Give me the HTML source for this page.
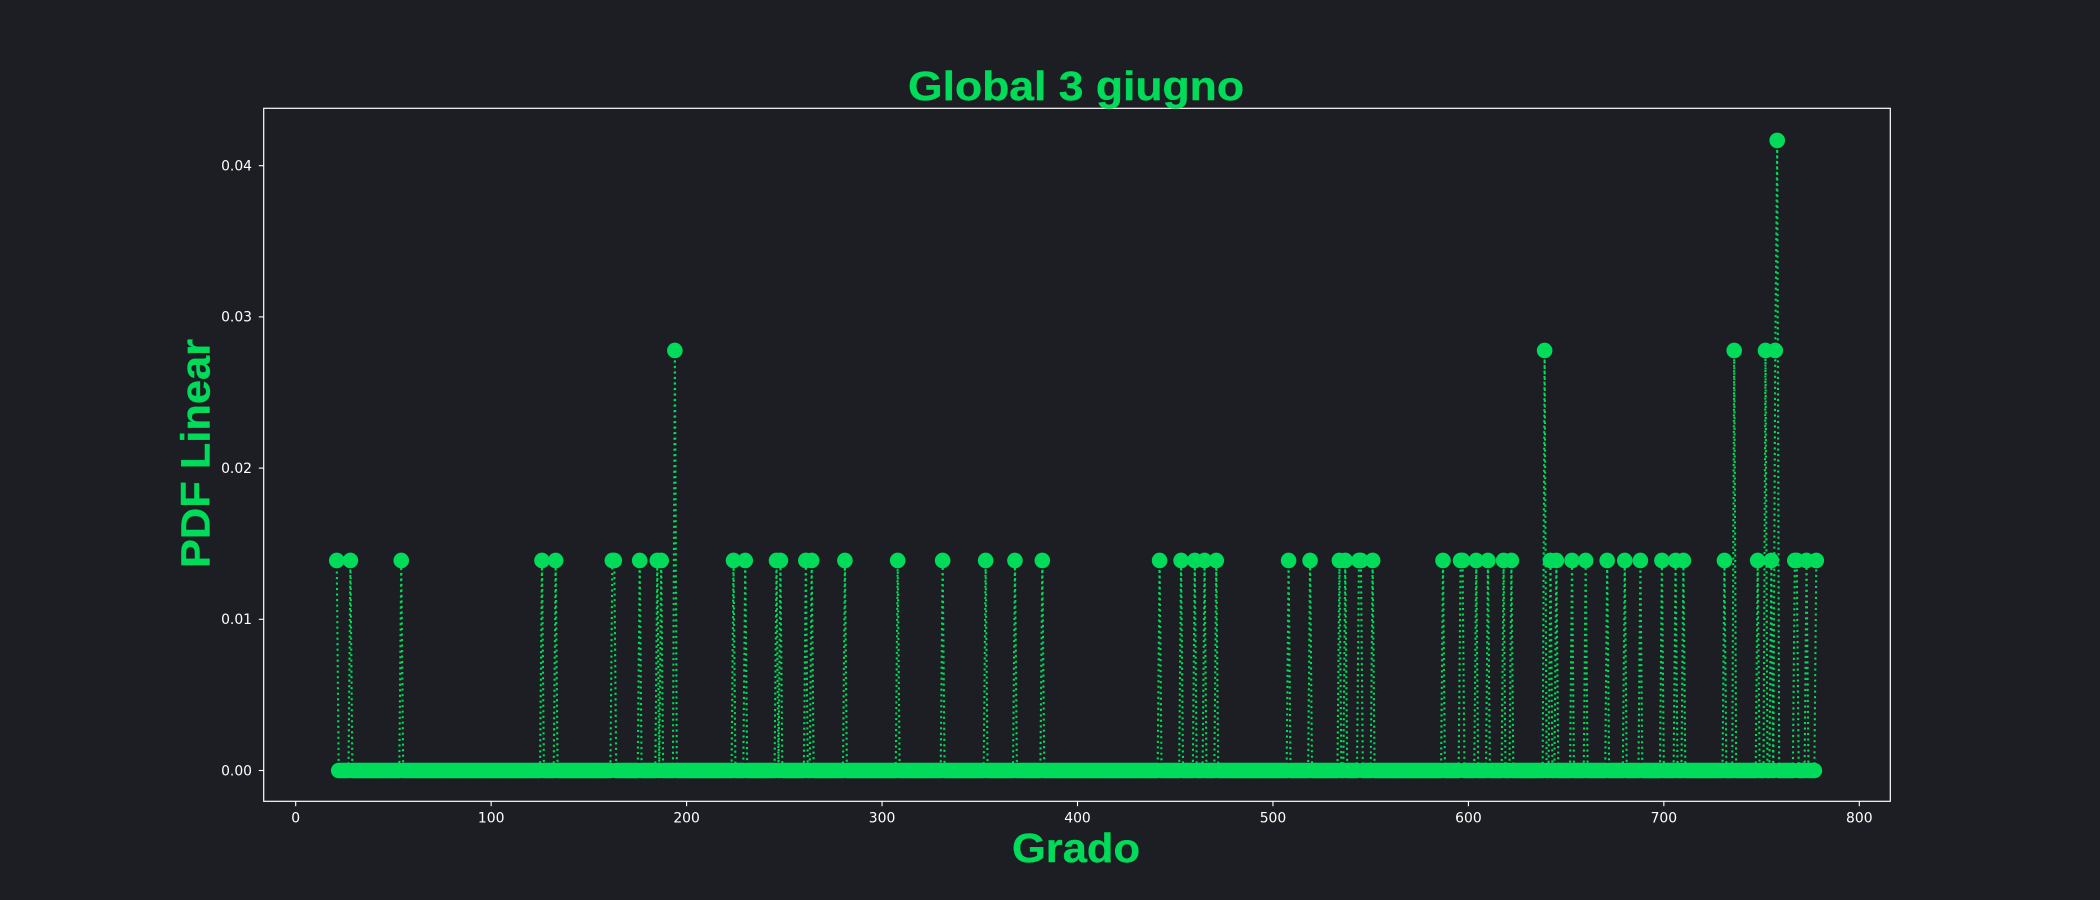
<!DOCTYPE html>
<html lang="it">
<head>
<meta charset="utf-8">
<title>Global 3 giugno</title>
<style>
html,body{margin:0;padding:0;width:2100px;height:900px;overflow:hidden;background:#1c1e23;}
svg{display:block;}
text{font-family:"DejaVu Sans","Liberation Sans",sans-serif;}
.tick-label{fill:#fff;font-size:13.9px;}
text.big{fill:#00db5a;font-weight:bold;font-family:"Liberation Sans","DejaVu Sans",sans-serif;stroke:#00db5a;stroke-width:0.4px;}
</style>
</head>
<body>
<svg id="chart" width="2100" height="900" viewBox="0 0 2100 900" xmlns="http://www.w3.org/2000/svg">
  <rect x="0" y="0" width="2100" height="900" fill="#1c1e23"/>
  <g id="stem-layer"></g>
  <g id="marker-layer"></g>
  <rect x="263.7" y="108.3" width="1626.6" height="693" fill="none" stroke="#fff" stroke-width="1.2"/>
  <g id="x-axis"></g>
  <g id="y-axis"></g>
  <text class="big" x="1076" y="99.8" font-size="41" text-anchor="middle" textLength="336" lengthAdjust="spacingAndGlyphs">Global 3 giugno</text>
  <text class="big" x="1076" y="862" font-size="41" text-anchor="middle" textLength="128" lengthAdjust="spacingAndGlyphs">Grado</text>
  <text class="big" transform="translate(209.3 453.5) rotate(-90)" x="0" y="0" font-size="41" text-anchor="middle" textLength="229" lengthAdjust="spacingAndGlyphs">PDF Linear</text>
</svg>
<script>
const xTickValues = [0, 100, 200, 300, 400, 500, 600, 700, 800];
const xTickLabels = ["0", "100", "200", "300", "400", "500", "600", "700", "800"];
const yTickValues = [0, 0.01, 0.02, 0.03, 0.04];
const yTickLabels = ["0.00", "0.01", "0.02", "0.03", "0.04"];
const degreeFirst = 21;
const degreeLast = 778;
const peakDegrees = [21, 28, 54, 126, 133, 162, 163, 176, 185, 187, 194, 224, 230, 246, 248, 261, 264, 281, 308, 331, 353, 368, 382, 442, 453, 460, 465, 471, 508, 519, 534, 537, 544, 545, 551, 587, 596, 597, 604, 610, 618, 622, 639, 642, 645, 653, 660, 671, 680, 688, 699, 706, 710, 731, 736, 748, 752, 755, 757, 758, 767, 768, 773, 778];
const peakValues = [0.01389, 0.01389, 0.01389, 0.01389, 0.01389, 0.01389, 0.01389, 0.01389, 0.01389, 0.01389, 0.02778, 0.01389, 0.01389, 0.01389, 0.01389, 0.01389, 0.01389, 0.01389, 0.01389, 0.01389, 0.01389, 0.01389, 0.01389, 0.01389, 0.01389, 0.01389, 0.01389, 0.01389, 0.01389, 0.01389, 0.01389, 0.01389, 0.01389, 0.01389, 0.01389, 0.01389, 0.01389, 0.01389, 0.01389, 0.01389, 0.01389, 0.01389, 0.02778, 0.01389, 0.01389, 0.01389, 0.01389, 0.01389, 0.01389, 0.01389, 0.01389, 0.01389, 0.01389, 0.01389, 0.02778, 0.01389, 0.02778, 0.01389, 0.02778, 0.04167, 0.01389, 0.01389, 0.01389, 0.01389];

const SVG_NS = "http://www.w3.org/2000/svg";
const GREEN = "#00db5a";
function xScale(v) { return 295.7 + 1.9545 * v; }
function yScale(v) { return 770.5 - 15120 * v; }

const peakLookup = new Map();
peakDegrees.forEach(function (d, i) { peakLookup.set(d, peakValues[i]); });

const points = [];
for (let d = degreeFirst; d <= degreeLast; d++) {
  points.push([d, peakLookup.has(d) ? peakLookup.get(d) : 0]);
}

const stemLayer = document.getElementById("stem-layer");
const line = document.createElementNS(SVG_NS, "polyline");


line.setAttribute("points", points.map(function (p) { return xScale(p[0]) + "," + yScale(p[1]); }).join(" "));
line.setAttribute("fill", "none");
line.setAttribute("stroke", GREEN);
line.setAttribute("stroke-width", "2.08");
line.setAttribute("stroke-dasharray", "2.08 3.43");
line.setAttribute("stroke-linejoin", "round");
stemLayer.appendChild(line);

const markerLayer = document.getElementById("marker-layer");
points.forEach(function (p) {
  const c = document.createElementNS(SVG_NS, "circle");
  
  
  c.setAttribute("cx", xScale(p[0]));
  c.setAttribute("cy", yScale(p[1]));
  c.setAttribute("r", "7.8");
  c.setAttribute("fill", GREEN);
  markerLayer.appendChild(c);
});

const xAxis = document.getElementById("x-axis");
xTickValues.forEach(function (v, i) {
  const x = xScale(v);
  const t = document.createElementNS(SVG_NS, "line");
  
  
  t.setAttribute("x1", x); t.setAttribute("x2", x);
  t.setAttribute("y1", 801.3); t.setAttribute("y2", 806.2);
  t.setAttribute("stroke", "#fff"); t.setAttribute("stroke-width", "1.1");
  xAxis.appendChild(t);
  const l = document.createElementNS(SVG_NS, "text");
  
  
  l.setAttribute("class", "tick-label");
  l.setAttribute("x", x); l.setAttribute("y", 822.3);
  l.setAttribute("text-anchor", "middle");
  l.textContent = xTickLabels[i];
  xAxis.appendChild(l);
});

const yAxis = document.getElementById("y-axis");
yTickValues.forEach(function (v, i) {
  const y = yScale(v);
  const t = document.createElementNS(SVG_NS, "line");
  
  
  t.setAttribute("x1", 258.8); t.setAttribute("x2", 263.7);
  t.setAttribute("y1", y); t.setAttribute("y2", y);
  t.setAttribute("stroke", "#fff"); t.setAttribute("stroke-width", "1.1");
  yAxis.appendChild(t);
  const l = document.createElementNS(SVG_NS, "text");
  
  
  l.setAttribute("class", "tick-label");
  l.setAttribute("x", 252); l.setAttribute("y", y + 4.8);
  l.setAttribute("text-anchor", "end");
  l.textContent = yTickLabels[i];
  yAxis.appendChild(l);
});
</script>
</body>
</html>
